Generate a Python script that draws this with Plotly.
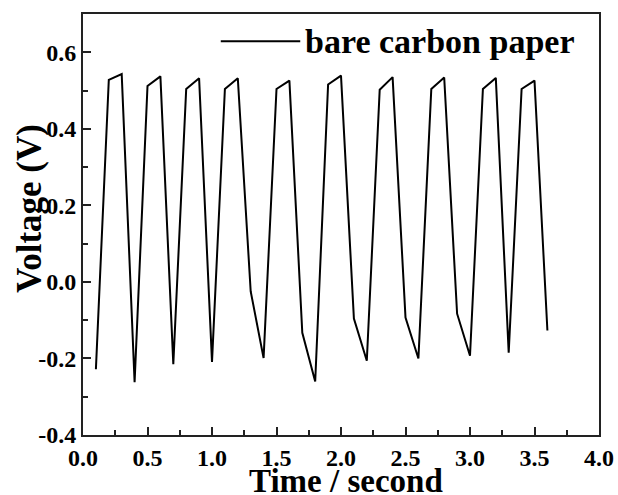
import plotly.graph_objects as go

time_s = [0.1, 0.2, 0.3, 0.4, 0.5, 0.6, 0.7, 0.8, 0.9, 1.0, 1.1, 1.2, 1.3, 1.4,
          1.5, 1.6, 1.7, 1.8, 1.9, 2.0, 2.1, 2.2, 2.3, 2.4, 2.5, 2.6, 2.7, 2.8,
          2.9, 3.0, 3.1, 3.2, 3.3, 3.4, 3.5, 3.6]
voltage = [-0.228, 0.528, 0.543, -0.262, 0.512, 0.537, -0.215, 0.504, 0.532, -0.209,
           0.504, 0.532, -0.025, -0.199, 0.504, 0.526, -0.133, -0.260, 0.516, 0.539,
           -0.096, -0.206, 0.502, 0.535, -0.093, -0.200, 0.504, 0.534, -0.083, -0.193,
           0.504, 0.533, -0.185, 0.504, 0.526, -0.127]
series_name = "bare carbon paper"
x_title = "Time / second"
y_title = "Voltage (V)"

x_ticks = [0.0, 0.5, 1.0, 1.5, 2.0, 2.5, 3.0, 3.5, 4.0]
x_labels = ["0.0", "0.5", "1.0", "1.5", "2.0", "2.5", "3.0", "3.5", "4.0"]
y_ticks = [-0.4, -0.2, 0.0, 0.2, 0.4, 0.6]
y_labels = ["-0.4", "-0.2", "0.0", "0.2", "0.4", "0.6"]

FONT = "Liberation Serif"

fig = go.Figure()
fig.add_trace(go.Scatter(x=time_s, y=voltage, mode="lines", name=series_name,
                         line=dict(color="black", width=2), showlegend=False))

# legend sample (line + label)
fig.add_shape(type="line", xref="paper", yref="paper", x0=0.267, x1=0.421, y0=0.935, y1=0.935,
              line=dict(color="black", width=2))
fig.add_annotation(text="<b>" + series_name + "</b>", xref="paper", yref="paper",
                   x=0.426, y=0.935, xanchor="left", yanchor="middle", showarrow=False,
                   font=dict(family=FONT, size=34, color="black"))

# axis titles
fig.add_annotation(text="<b>" + x_title + "</b>", xref="paper", yref="paper",
                   x=0.51, y=-0.11, xanchor="center", yanchor="middle", showarrow=False,
                   font=dict(family=FONT, size=33, color="black"))
fig.add_annotation(text="<b>" + y_title + "</b>", xref="paper", yref="paper",
                   x=-0.105, y=0.539, xanchor="center", yanchor="middle", showarrow=False,
                   textangle=-90, font=dict(family=FONT, size=35, color="black"))

axis_common = dict(
    showline=True, linecolor="#222", linewidth=2, mirror=True,
    ticks="inside", ticklen=8, tickwidth=1.5, tickcolor="#222",
    showgrid=False, zeroline=False,
    tickfont=dict(family=FONT, size=24, color="black"),
)

fig.update_xaxes(range=[0, 4.0], tickvals=x_ticks,
                 ticktext=["<b>%s</b>" % t for t in x_labels],
                 minor=dict(dtick=0.25, tick0=0, ticks="inside", ticklen=5, tickwidth=1.5, tickcolor="#222"),
                 **axis_common)
fig.update_yaxes(range=[-0.4, 0.7], tickvals=y_ticks,
                 ticktext=["<b>%s</b>" % t for t in y_labels],
                 minor=dict(dtick=0.1, tick0=0, ticks="inside", ticklen=5, tickwidth=1.5, tickcolor="#222"),
                 **axis_common)

fig.update_layout(
    width=618, height=495,
    margin=dict(l=83, r=19, t=14, b=60, autoexpand=False),
    plot_bgcolor="white", paper_bgcolor="white",
)

fig.write_html("out.html", config={"displayModeBar": False},
               post_script="document.body.style.margin='0';")
